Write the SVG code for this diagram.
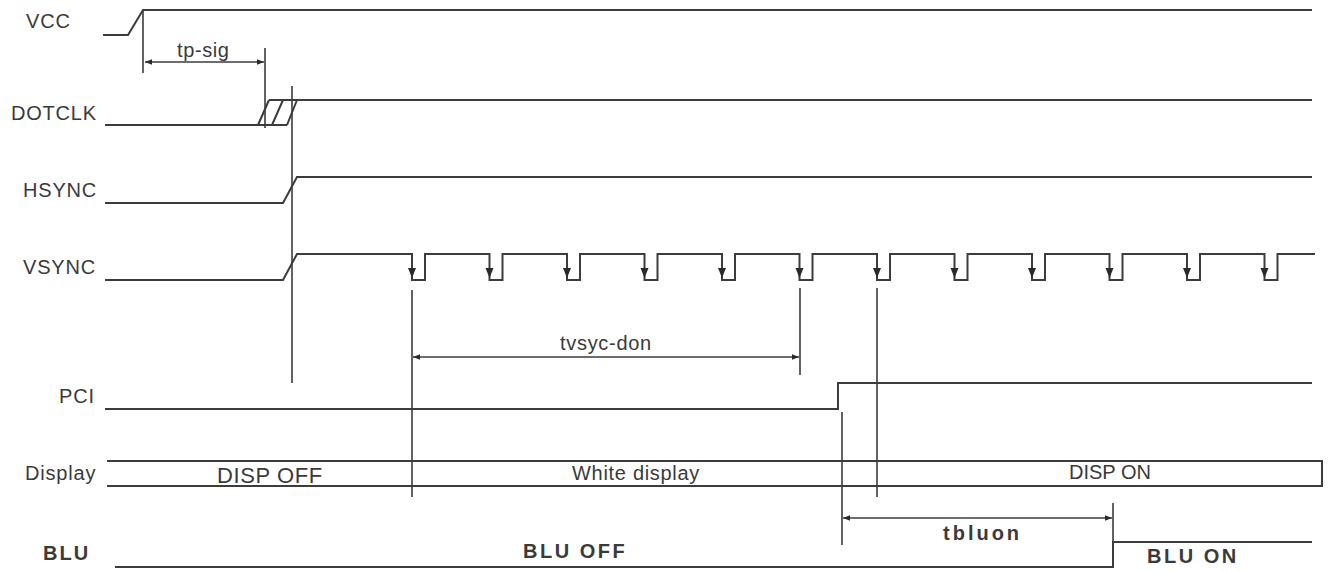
<svg xmlns="http://www.w3.org/2000/svg" width="1329" height="571" viewBox="0 0 1329 571">
<defs>
<style>
.sig{fill:none;stroke:#3c3c3c;stroke-width:2;stroke-linejoin:miter}
.mk{fill:none;stroke:#3c3c3c;stroke-width:1.6}
.lbl{font-family:"Liberation Sans",Arial,sans-serif;font-size:20px;fill:#3a3a3a;letter-spacing:0.8px}
.bold{font-family:"Liberation Sans",Arial,sans-serif;font-size:20px;font-weight:bold;fill:#3a3a3a;letter-spacing:2.5px}
.dn{fill:#2a2a2a}
</style>
<marker id="ah" viewBox="0 0 10 10" refX="10" refY="5" markerWidth="7" markerHeight="7" orient="auto-start-reverse" markerUnits="userSpaceOnUse">
<path d="M0,1 L10,5 L0,9 Z" fill="#2a2a2a"/>
</marker>
<path id="pa" d="M-4,268 L4,268 L0,278 Z"/>
</defs>
<rect width="1329" height="571" fill="#ffffff"/>

<g id="vcc">
<text class="lbl" x="26" y="28">VCC</text>
<path class="sig" d="M103,35 H128 L143,10 H1312"/>
</g>

<g id="dotclk">
<text class="lbl" x="11" y="120">DOTCLK</text>
<path class="sig" d="M105,125 H287 M269,100 H1312 M258,125 L269,100 M272,125 L283,100 M287,125 L297,100"/>
</g>

<g id="hsync">
<text class="lbl" x="23" y="197">HSYNC</text>
<path class="sig" d="M105,203 H283 L297,177 H1312"/>
</g>

<g id="vsync">
<text class="lbl" x="23" y="274">VSYNC</text>
<path class="sig" d="M105,280 H283 L297,254 H412 V280 H425 V254 H489.5 V280 H502.5 V254 H567 V280 H580 V254 H644.5 V280 H657.5 V254 H722 V280 H735 V254 H799.5 V280 H812.5 V254 H877 V280 H890 V254 H954.5 V280 H967.5 V254 H1032 V280 H1045 V254 H1109.5 V280 H1122.5 V254 H1187 V280 H1200 V254 H1264.5 V280 H1277.5 V254 H1315"/>
<g class="dn">
<use href="#pa" x="412"/><use href="#pa" x="489.5"/><use href="#pa" x="567"/><use href="#pa" x="644.5"/>
<use href="#pa" x="722"/><use href="#pa" x="799.5"/><use href="#pa" x="877"/><use href="#pa" x="954.5"/>
<use href="#pa" x="1032"/><use href="#pa" x="1109.5"/><use href="#pa" x="1187"/><use href="#pa" x="1264.5"/>
</g>
</g>

<g id="pci">
<text class="lbl" x="59" y="403">PCI</text>
<path class="sig" d="M105,409 H838 V383 H1312"/>
</g>

<g id="display">
<text class="lbl" x="25" y="480">Display</text>
<path class="sig" d="M107,461 H1322 V486 H107"/>
<text class="lbl" x="217" y="483" style="font-size:22px;letter-spacing:0.6px">DISP OFF</text>
<text class="lbl" x="572" y="480" style="letter-spacing:0.7px">White display</text>
<text class="lbl" x="1069" y="479" style="letter-spacing:0px">DISP ON</text>
</g>

<g id="blu">
<text class="bold" x="43" y="560" style="letter-spacing:2px">BLU</text>
<path class="sig" d="M115,567 H1113 V542 H1312"/>
<text class="bold" x="523" y="558">BLU OFF</text>
<text class="bold" x="1147" y="563">BLU ON</text>
</g>

<g id="connectors">
<path class="mk" d="M143,10 V73 M265,48 V128 M292,86 V383 M412,290 V497 M800,288 V375 M877,288 V497 M842,412 V545 M1113,503 V542"/>
<line class="mk" x1="145" y1="62" x2="264" y2="62" marker-start="url(#ah)" marker-end="url(#ah)"/>
<line class="mk" x1="413" y1="357" x2="799" y2="357" marker-start="url(#ah)" marker-end="url(#ah)"/>
<line class="mk" x1="843" y1="518" x2="1112" y2="518" marker-start="url(#ah)" marker-end="url(#ah)"/>
<text class="lbl" x="177" y="57" style="letter-spacing:0.6px">tp-sig</text>
<text class="lbl" x="560" y="350" style="letter-spacing:0.7px">tvsyc-don</text>
<text class="bold" x="943" y="540" style="letter-spacing:3px">tbluon</text>
</g>
</svg>
